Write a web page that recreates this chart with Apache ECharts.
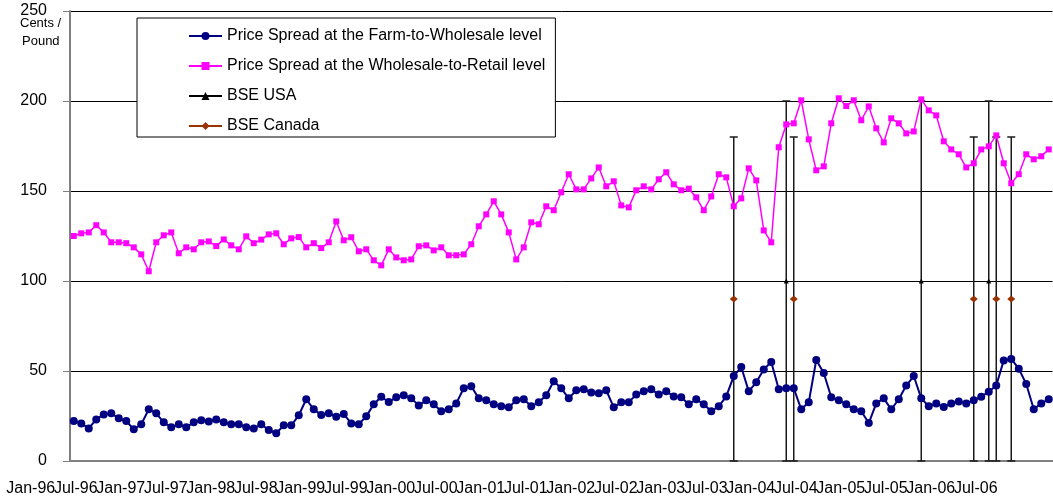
<!DOCTYPE html>
<html>
<head>
<meta charset="utf-8">
<script src="https://cdn.jsdelivr.net/npm/echarts@6/dist/echarts.min.js"></script>
<style>
  html, body { margin: 0; padding: 0; background: #fff; }
  #chart { width: 1053px; height: 502px; }
</style>
</head>
<body>
<div id="chart"></div>
<script>
const monthNames = ['Jan', 'Feb', 'Mar', 'Apr', 'May', 'Jun', 'Jul', 'Aug', 'Sep', 'Oct', 'Nov', 'Dec']
const years = ['96', '97', '98', '99', '00', '01', '02', '03', '04', '05', '06']
const months = []
years.forEach(y => monthNames.forEach(m => months.push(m + '-' + y)))
months.length = 131 // Jan-96 .. Nov-06

// cents per pound
const farmToWholesale = [
  22.2, 20.9, 18.1, 23.1, 25.9, 26.5, 23.7, 22.2, 17.6, 20.4, 28.7, 26.5, 21.5,
  18.7, 20.4, 18.7, 21.5, 22.6, 22, 23.1, 21.5, 20.4, 20.4, 18.7, 18.1, 20.4,
  17.2, 15.4, 19.8, 19.8, 25.4, 34.3, 28.7, 25.6, 26.5, 24.6, 26.1, 20.9, 20.4,
  24.8, 31.5, 35.7, 32.8, 35.4, 36.5, 34.8, 30.9, 33.7, 31.5, 27.6, 28.7, 32,
  40.4, 41.5, 34.8, 33.7, 31.5, 30.4, 29.8, 33.7, 34.3, 30.4, 32.6, 36.5, 44.3,
  40.4, 34.8, 39.3, 39.8, 38.1, 37.6, 39.3, 29.8, 32.6, 32.6, 37, 38.7, 39.8,
  37, 38.7, 35.9, 35.4, 31.5, 34.3, 31.5, 27.6, 30.4, 35.9, 47.2, 52.2, 38.7,
  43.7, 50.9, 55, 39.8, 40.4, 40.4, 28.7, 32.6, 56.1, 48.9, 35.4, 33.7, 31.5,
  28.7, 27.6, 21.1, 32, 34.8, 28.7, 34.3, 41.9, 47.2, 34.8, 30.4, 31.9, 30,
  32, 33.1, 32, 33.7, 35.7, 38.5, 41.9, 55.9, 56.7, 51.3, 42.8, 28.7, 32, 34.3
]
const wholesaleToRetail = [
  125, 126.5, 127, 131, 127, 121.5, 121.5, 121, 118.7, 114.8, 105.4, 121.5, 125.4,
  127, 115.4, 118.7, 117.6, 121.5, 122, 119.4, 123.1, 119.8, 117.6, 124.8, 121, 123,
  125.9, 126.5, 120.4, 123.7, 124.4, 118.7, 121, 118.3, 121.5, 133.1, 122.6, 124.3, 116.5,
  117.6, 111.5, 108.7, 117.6, 113.1, 111.5, 112, 119.3, 119.8, 117, 118.7, 114.3, 114.3,
  114.8, 120.4, 130.4, 137, 144.3, 137, 127, 112, 118.7, 132.6, 131.5, 141.5, 139.3,
  149.3, 159.3, 150.9, 150.9, 157, 163.1, 152.6, 155.4, 142, 140.9, 150.4, 152.6, 150.9,
  156.5, 160.4, 153.7, 150.4, 151.3, 146.5, 139.3, 147, 159.3, 157.6, 141.5, 145.9, 162.6,
  155.9, 128.1, 121.5, 174.3, 187, 187.6, 200.4, 178.7, 161.5, 163.7, 187.6, 201.5, 197.2,
  200.4, 189.3, 197, 184.8, 177, 190.4, 187.6, 182, 183.1, 200.9, 194.8, 192, 177.6,
  173.1, 170.4, 163.1, 165.4, 173.1, 174.8, 180.9, 165.4, 154.3, 159.3, 170.4, 167.6, 169.3, 173.1
]

const bseUsaMonths = ['Dec-03', 'Jun-05', 'Mar-06']
const bseCanadaMonths = ['May-03', 'Jan-04', 'Jan-06', 'Apr-06', 'Jun-06']
const bseUsaMarker = 100
const bseUsaTop = 200
const bseCanadaMarker = 90
const bseCanadaTop = 180

const yTicks = [0, 50, 100, 150, 200, 250]

const FONT = 'Liberation Sans, Arial, sans-serif'

function markerData(list, v) {
  return months.map(m => (list.includes(m) ? v : '-'))
}
function barData(list, top) {
  return list.map(m => [months.indexOf(m), top])
}

function renderBar(params, api) {
  const top = api.coord([api.value(0), api.value(1)])
  const bot = api.coord([api.value(0), 0])
  const cap = 4
  const style = { stroke: '#1a1a1a', lineWidth: 1.5 }
  return {
    type: 'group',
    children: [
      { type: 'line', shape: { x1: top[0], y1: top[1], x2: bot[0], y2: bot[1] }, style },
      { type: 'line', shape: { x1: top[0] - cap, y1: top[1], x2: top[0] + cap, y2: top[1] }, style },
      { type: 'line', shape: { x1: bot[0] - cap, y1: bot[1], x2: bot[0] + cap, y2: bot[1] }, style }
    ]
  }
}

const chart = echarts.init(document.getElementById('chart'))

chart.setOption({
  animation: false,
  textStyle: { fontFamily: FONT },
  grid: { left: 70, top: 11, width: 982.5, height: 450 },
  legend: {
    orient: 'vertical',
    left: 137,
    top: 18,
    padding: [10, 10, 3, 51],
    itemWidth: 33,
    itemHeight: 10,
    itemGap: 14,
    backgroundColor: '#fff',
    borderColor: '#000',
    borderWidth: 1,
    borderRadius: 0,
    textStyle: { fontSize: 16, color: '#000', fontFamily: FONT, lineHeight: 16 },
    data: [
      'Price Spread at the Farm-to-Wholesale level',
      'Price Spread at the Wholesale-to-Retail level',
      'BSE USA',
      'BSE Canada'
    ]
  },
  graphic: [
    { type: 'text', left: 20, top: 17, style: { text: 'Cents /', fontSize: 13, fill: '#000', fontFamily: FONT } },
    { type: 'text', left: 22, top: 35, style: { text: 'Pound', fontSize: 13, fill: '#000', fontFamily: FONT } }
  ],
  xAxis: {
    type: 'category',
    data: months,
    boundaryGap: true,
    axisLine: { lineStyle: { color: '#808080', width: 2 } },
    axisTick: { interval: 5, length: 6, lineStyle: { color: '#808080', width: 1 } },
    axisLabel: {
      interval: 0,
      formatter: (v, i) => (i % 6 === 0 ? v : ''),
      fontSize: 16,
      color: '#000',
      fontFamily: FONT,
      margin: 20,
      padding: [0, 86, 0, 0]
    },
    splitLine: { show: false }
  },
  yAxis: {
    type: 'value',
    min: yTicks[0],
    max: yTicks[yTicks.length - 1],
    interval: 50,
    axisLine: { show: true, lineStyle: { color: '#808080', width: 2 } },
    axisTick: { show: true, length: 7, lineStyle: { color: '#808080' } },
    axisLabel: { fontSize: 16, color: '#000', fontFamily: FONT, margin: 23 },
    splitLine: { lineStyle: { color: '#000', width: 1 } }
  },
  series: [
    {
      type: 'custom',
      name: 'usaBars',
      renderItem: renderBar,
      data: barData(bseUsaMonths, bseUsaTop),
      z: 1,
      silent: true
    },
    {
      type: 'custom',
      name: 'canadaBars',
      renderItem: renderBar,
      data: barData(bseCanadaMonths, bseCanadaTop),
      z: 1,
      silent: true
    },
    {
      name: 'Price Spread at the Farm-to-Wholesale level',
      type: 'line',
      data: farmToWholesale,
      symbol: 'circle',
      symbolSize: 8,
      showAllSymbol: true,
      lineStyle: { color: '#000080', width: 2 },
      itemStyle: { color: '#000080' },
      z: 3
    },
    {
      name: 'Price Spread at the Wholesale-to-Retail level',
      type: 'line',
      data: wholesaleToRetail,
      symbol: 'rect',
      symbolSize: 6,
      showAllSymbol: true,
      lineStyle: { color: '#ff00ff', width: 1.5 },
      itemStyle: { color: '#ff00ff' },
      z: 3
    },
    {
      name: 'BSE USA',
      type: 'line',
      data: markerData(bseUsaMonths, bseUsaMarker),
      symbol: 'triangle',
      symbolSize: 5,
      showAllSymbol: true,
      lineStyle: { color: '#000', width: 1.5 },
      itemStyle: { color: '#000' },
      z: 4
    },
    {
      name: 'BSE Canada',
      type: 'line',
      data: markerData(bseCanadaMonths, bseCanadaMarker),
      symbol: 'diamond',
      symbolSize: [8, 7],
      showAllSymbol: true,
      lineStyle: { color: '#993300', width: 1.5 },
      itemStyle: { color: '#993300' },
      z: 4
    }
  ]
})
</script>
</body>
</html>
